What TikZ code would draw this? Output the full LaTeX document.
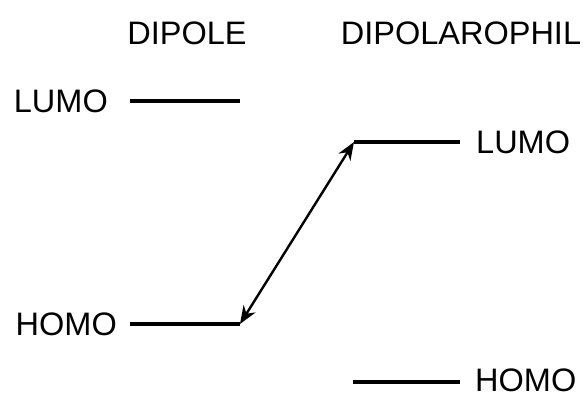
\documentclass[tikz,border=0pt]{standalone}
\usepackage{fontspec}
\setmainfont{Liberation Sans}
\usepackage{tikz}
\usetikzlibrary{arrows.meta,positioning}

\tikzset{
  level/.style={line width=4pt},
  orblabel/.style={inner sep=0pt, font=\fontsize{32.5}{36}\selectfont},
  interaction/.style={line width=2.4pt, {Stealth[length=18pt,width=14pt]}-{Stealth[length=18pt,width=14pt]}},
}

\begin{document}
\begin{tikzpicture}[x=1pt, y=-1pt]
\useasboundingbox (0,0) rectangle (584,396);
% Column headers
\node[orblabel] (dip) at (187,33) {DIPOLE};
\node[orblabel] (dipo) at (461,33) {DIPOLAROPHIL};
% Dipole levels (left)
\coordinate (dl1) at (130,101);
\coordinate (dl2) at (240,101);
\coordinate (dh1) at (130,324);
\coordinate (dh2) at (240,324);
\draw[level] (dl1) -- (dl2);
\draw[level] (dh1) -- (dh2);
\node[orblabel, anchor=east] (dlumo) at (108,101) {LUMO};
\node[orblabel, anchor=east] (dhomo) at (117,324) {HOMO};
% Dipolarophile levels (right)
\coordinate (pl1) at (354,142);
\coordinate (pl2) at (460,142);
\coordinate (ph1) at (353,382);
\coordinate (ph2) at (460,382);
\draw[level] (pl1) -- (pl2);
\draw[level] (ph1) -- (ph2);
\node[orblabel, anchor=west] (plumo) at (476,142) {LUMO};
\node[orblabel, anchor=west] (phomo) at (475,380) {HOMO};
% HOMO(dipole) -- LUMO(dipolarophile) interaction
\draw[interaction] (dh2) -- (pl1);
\end{tikzpicture}
\end{document}
